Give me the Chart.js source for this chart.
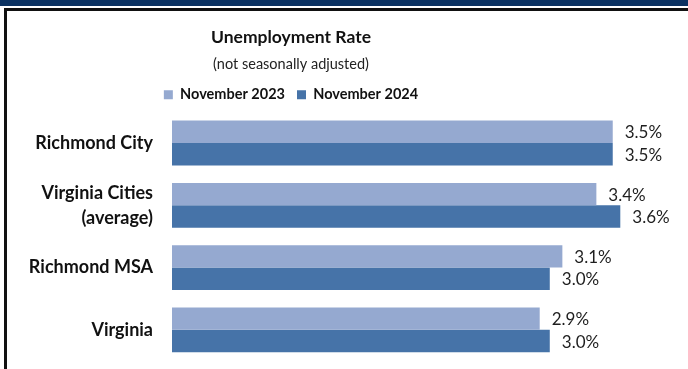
<!DOCTYPE html>
<html>
<head>
<meta charset="utf-8">
<script src="https://cdn.jsdelivr.net/npm/chart.js@4/dist/chart.umd.min.js"></script>
<style>
  html, body { margin: 0; padding: 0; background: #fff; overflow: hidden; }
  body { width: 688px; height: 369px; position: relative; }
  #band { position: absolute; left: 0; top: 0; width: 688px; height: 6px; background: #0b3262; }
  #frame { position: absolute; left: 4px; top: 8px; width: 700px; height: 380px; border-top: 3px solid #111; border-left: 3px solid #111; box-sizing: border-box; }
  #wrap { position: absolute; left: -100px; top: 11px; width: 792px; height: 358px; }
</style>
</head>
<body>
<div id="band"></div>
<div id="frame"></div>
<div id="wrap"><canvas id="c"></canvas></div>
<script>
const categories = [["Richmond City"], ["Virginia Cities", "(average)"], ["Richmond MSA"], ["Virginia"]];
const seriesNames = ["November 2023", "November 2024"];
const nov2023 = [3.5, 3.37, 3.1, 2.92];
const nov2024 = [3.5, 3.56, 3.0, 3.0];
const titleText = "Unemployment Rate";
const subtitleText = "(not seasonally adjusted)";

const FONT = "Lato, 'Noto Sans', sans-serif";

const valueLabels = {
  id: 'valueLabels',
  afterDatasetsDraw(chart) {
    const ctx = chart.ctx;
    ctx.save();
    ctx.font = "17px " + FONT;
    ctx.fillStyle = "#1e1e1e";
    ctx.textAlign = "left";
    ctx.textBaseline = "middle";
    chart.data.datasets.forEach((ds, i) => {
      const meta = chart.getDatasetMeta(i);
      meta.data.forEach((bar, j) => {
        ctx.fillText(ds.data[j].toFixed(1) + "%", bar.x + 12, bar.y + 1);
      });
    });
    ctx.restore();
  }
};

new Chart(document.getElementById('c'), {
  type: 'bar',
  data: {
    labels: categories,
    datasets: [
      { label: seriesNames[0], data: nov2023, backgroundColor: '#95a9d0', borderWidth: 0,
        categoryPercentage: 0.72, barPercentage: 1.0 },
      { label: seriesNames[1], data: nov2024, backgroundColor: '#4673a8', borderWidth: 0,
        categoryPercentage: 0.72, barPercentage: 1.0 }
    ]
  },
  options: {
    indexAxis: 'y',
    responsive: true,
    maintainAspectRatio: false,
    animation: false,
    events: [],
    layout: { padding: { left: 0, right: 10, top: 0, bottom: 8 } },
    scales: {
      x: { display: false, min: 0, max: 4.05 },
      y: {
        grid: { display: false, drawTicks: false },
        border: { display: false },
        ticks: { color: '#111', padding: 19, font: { family: FONT, size: 18, weight: 'bold', lineHeight: 1.4 } },
        afterFit(scale) { scale.width = 272; scale.paddingTop = 0; scale.paddingBottom = 0; }
      }
    },
    plugins: {
      title: { display: true, text: titleText, color: '#111',
               font: { family: FONT, size: 17.5, weight: 'bold' }, padding: { top: 16, bottom: 8 } },
      subtitle: { display: true, text: subtitleText, color: '#222',
               font: { family: FONT, size: 14.5, weight: 'normal' }, padding: { top: 0, bottom: 2 } },
      legend: { display: true, position: 'top',
        labels: { boxWidth: 9, boxHeight: 9, padding: 12, color: '#111',
                  font: { family: FONT, size: 14.5, weight: 'bold' } } },
      tooltip: { enabled: false }
    }
  },
  plugins: [valueLabels]
});
</script>
</body>
</html>
